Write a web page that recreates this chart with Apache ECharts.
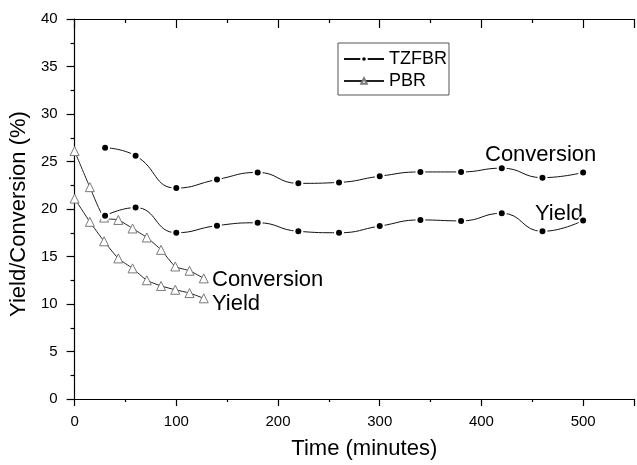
<!DOCTYPE html>
<html>
<head>
<meta charset="utf-8">
<script src="https://cdn.jsdelivr.net/npm/echarts@6/dist/echarts.min.js"></script>
<style>
html,body{margin:0;padding:0;background:#fff;}
#c{width:637px;height:465px;}
</style>
</head>
<body>
<div id="c"></div>
<script>
// ---- data ----
var pbrTime = [0, 15, 29, 43, 57, 71, 85, 99, 113, 127];
var pbrConversion = [26.1, 22.3, 19.1, 18.85, 17.95, 17.0, 15.7, 13.95, 13.5, 12.7];
var pbrYield = [21.1, 18.65, 16.6, 14.8, 13.75, 12.5, 11.9, 11.5, 11.15, 10.6];
var tzTime = [30, 60, 100, 140, 180, 220, 260, 300, 340, 380, 420, 460, 500];
var tzConversion = [26.45, 25.6, 22.2, 23.1, 23.85, 22.7, 22.8, 23.45, 23.9, 23.9, 24.3, 23.3, 23.85];
var tzYield = [19.3, 20.15, 17.5, 18.25, 18.55, 17.65, 17.5, 18.2, 18.85, 18.75, 19.55, 17.65, 18.8];
var legendNames = ['TZFBR', 'PBR'];
var xTitle = 'Time (minutes)';
var yTitle = 'Yield/Conversion (%)';

function pairs(xs, ys) { return xs.map(function (x, i) { return [x, ys[i]]; }); }

var FONT = 'Liberation Sans, Arial, Helvetica, sans-serif';
var chart = echarts.init(document.getElementById('c'), null, {renderer: 'canvas'});

function tzSeries(data) {
  return {
    name: legendNames[0], type: 'line', data: data, smooth: 0.5,
    symbol: 'circle', symbolSize: 8,
    lineStyle: {color: '#111', width: 1},
    itemStyle: {color: '#000', borderColor: '#fff', borderWidth: 2},
    emphasis: {disabled: true}, z: 3
  };
}
function pbrSeries(data) {
  return {
    name: legendNames[1], type: 'line', data: data, smooth: 0.2,
    symbol: 'triangle', symbolSize: 9,
    lineStyle: {color: '#222', width: 1},
    itemStyle: {color: '#fff', borderColor: '#7a7a7a', borderWidth: 1},
    emphasis: {disabled: true}, z: 2
  };
}

var option = {
  animation: false,
  backgroundColor: '#fff',
  textStyle: {fontFamily: FONT},
  grid: {left: 71, right: -8, top: 19, bottom: 62, containLabel: false},
  legend: {
    data: legendNames, orient: 'vertical', left: 338, top: 43,
    padding: [7, 2, 5, 5], itemGap: 4, itemWidth: 40, itemHeight: 7,
    borderColor: '#555', borderWidth: 1,
    textStyle: {fontFamily: FONT, fontSize: 18, color: '#000'}
  },
  xAxis: [{
    type: 'value', min: 0, max: 550, interval: 100, position: 'bottom',
    name: xTitle, nameLocation: 'middle', nameGap: 39,
    nameTextStyle: {fontFamily: FONT, fontSize: 22, color: '#000', padding: [0, 0, 0, 20]},
    axisLine: {show: true, lineStyle: {color: '#000', width: 1.2}},
    axisTick: {show: true, inside: false, length: 7, lineStyle: {color: '#000', width: 1.2}},
    minorTick: {show: true, splitNumber: 2, length: 3, lineStyle: {color: '#000', width: 1.2}},
    axisLabel: {fontFamily: FONT, fontSize: 15, color: '#000', margin: 15,
      formatter: function (v) { return v % 100 === 0 ? String(v) : ''; }},
    splitLine: {show: false}
  }, {
    type: 'value', min: 0, max: 550, interval: 100, position: 'top',
    axisLine: {show: true, lineStyle: {color: '#000', width: 1.2}},
    axisTick: {show: true, inside: true, length: 9, lineStyle: {color: '#000', width: 1.2}},
    minorTick: {show: true, splitNumber: 2, length: 4, lineStyle: {color: '#000', width: 1.2}},
    axisLabel: {show: false},
    splitLine: {show: false}
  }],
  yAxis: {
    type: 'value', min: 0, max: 40, interval: 5,
    name: yTitle, nameLocation: 'middle', nameGap: 40,
    nameTextStyle: {fontFamily: FONT, fontSize: 22, color: '#000', padding: [0, 10, 0, 0]},
    axisLine: {show: true, lineStyle: {color: '#000', width: 1.2}},
    axisTick: {show: true, inside: false, length: 8, lineStyle: {color: '#000', width: 1.2}},
    minorTick: {show: true, splitNumber: 2, length: 4, lineStyle: {color: '#000', width: 1.2}},
    axisLabel: {fontFamily: FONT, fontSize: 15, color: '#000', margin: 17},
    splitLine: {show: false}
  },
  graphic: [
    {type: 'text', left: 485, top: 144, style: {text: 'Conversion', font: '22px ' + FONT, fill: '#000'}},
    {type: 'text', left: 535, top: 203, style: {text: 'Yield', font: '22px ' + FONT, fill: '#000'}},
    {type: 'text', left: 212, top: 269, style: {text: 'Conversion', font: '22px ' + FONT, fill: '#000'}},
    {type: 'text', left: 212, top: 293, style: {text: 'Yield', font: '22px ' + FONT, fill: '#000'}}
  ],
  series: [
    tzSeries(pairs(tzTime, tzConversion)),
    tzSeries(pairs(tzTime, tzYield)),
    pbrSeries(pairs(pbrTime, pbrConversion)),
    pbrSeries(pairs(pbrTime, pbrYield))
  ]
};
chart.setOption(option);
</script>
</body>
</html>
